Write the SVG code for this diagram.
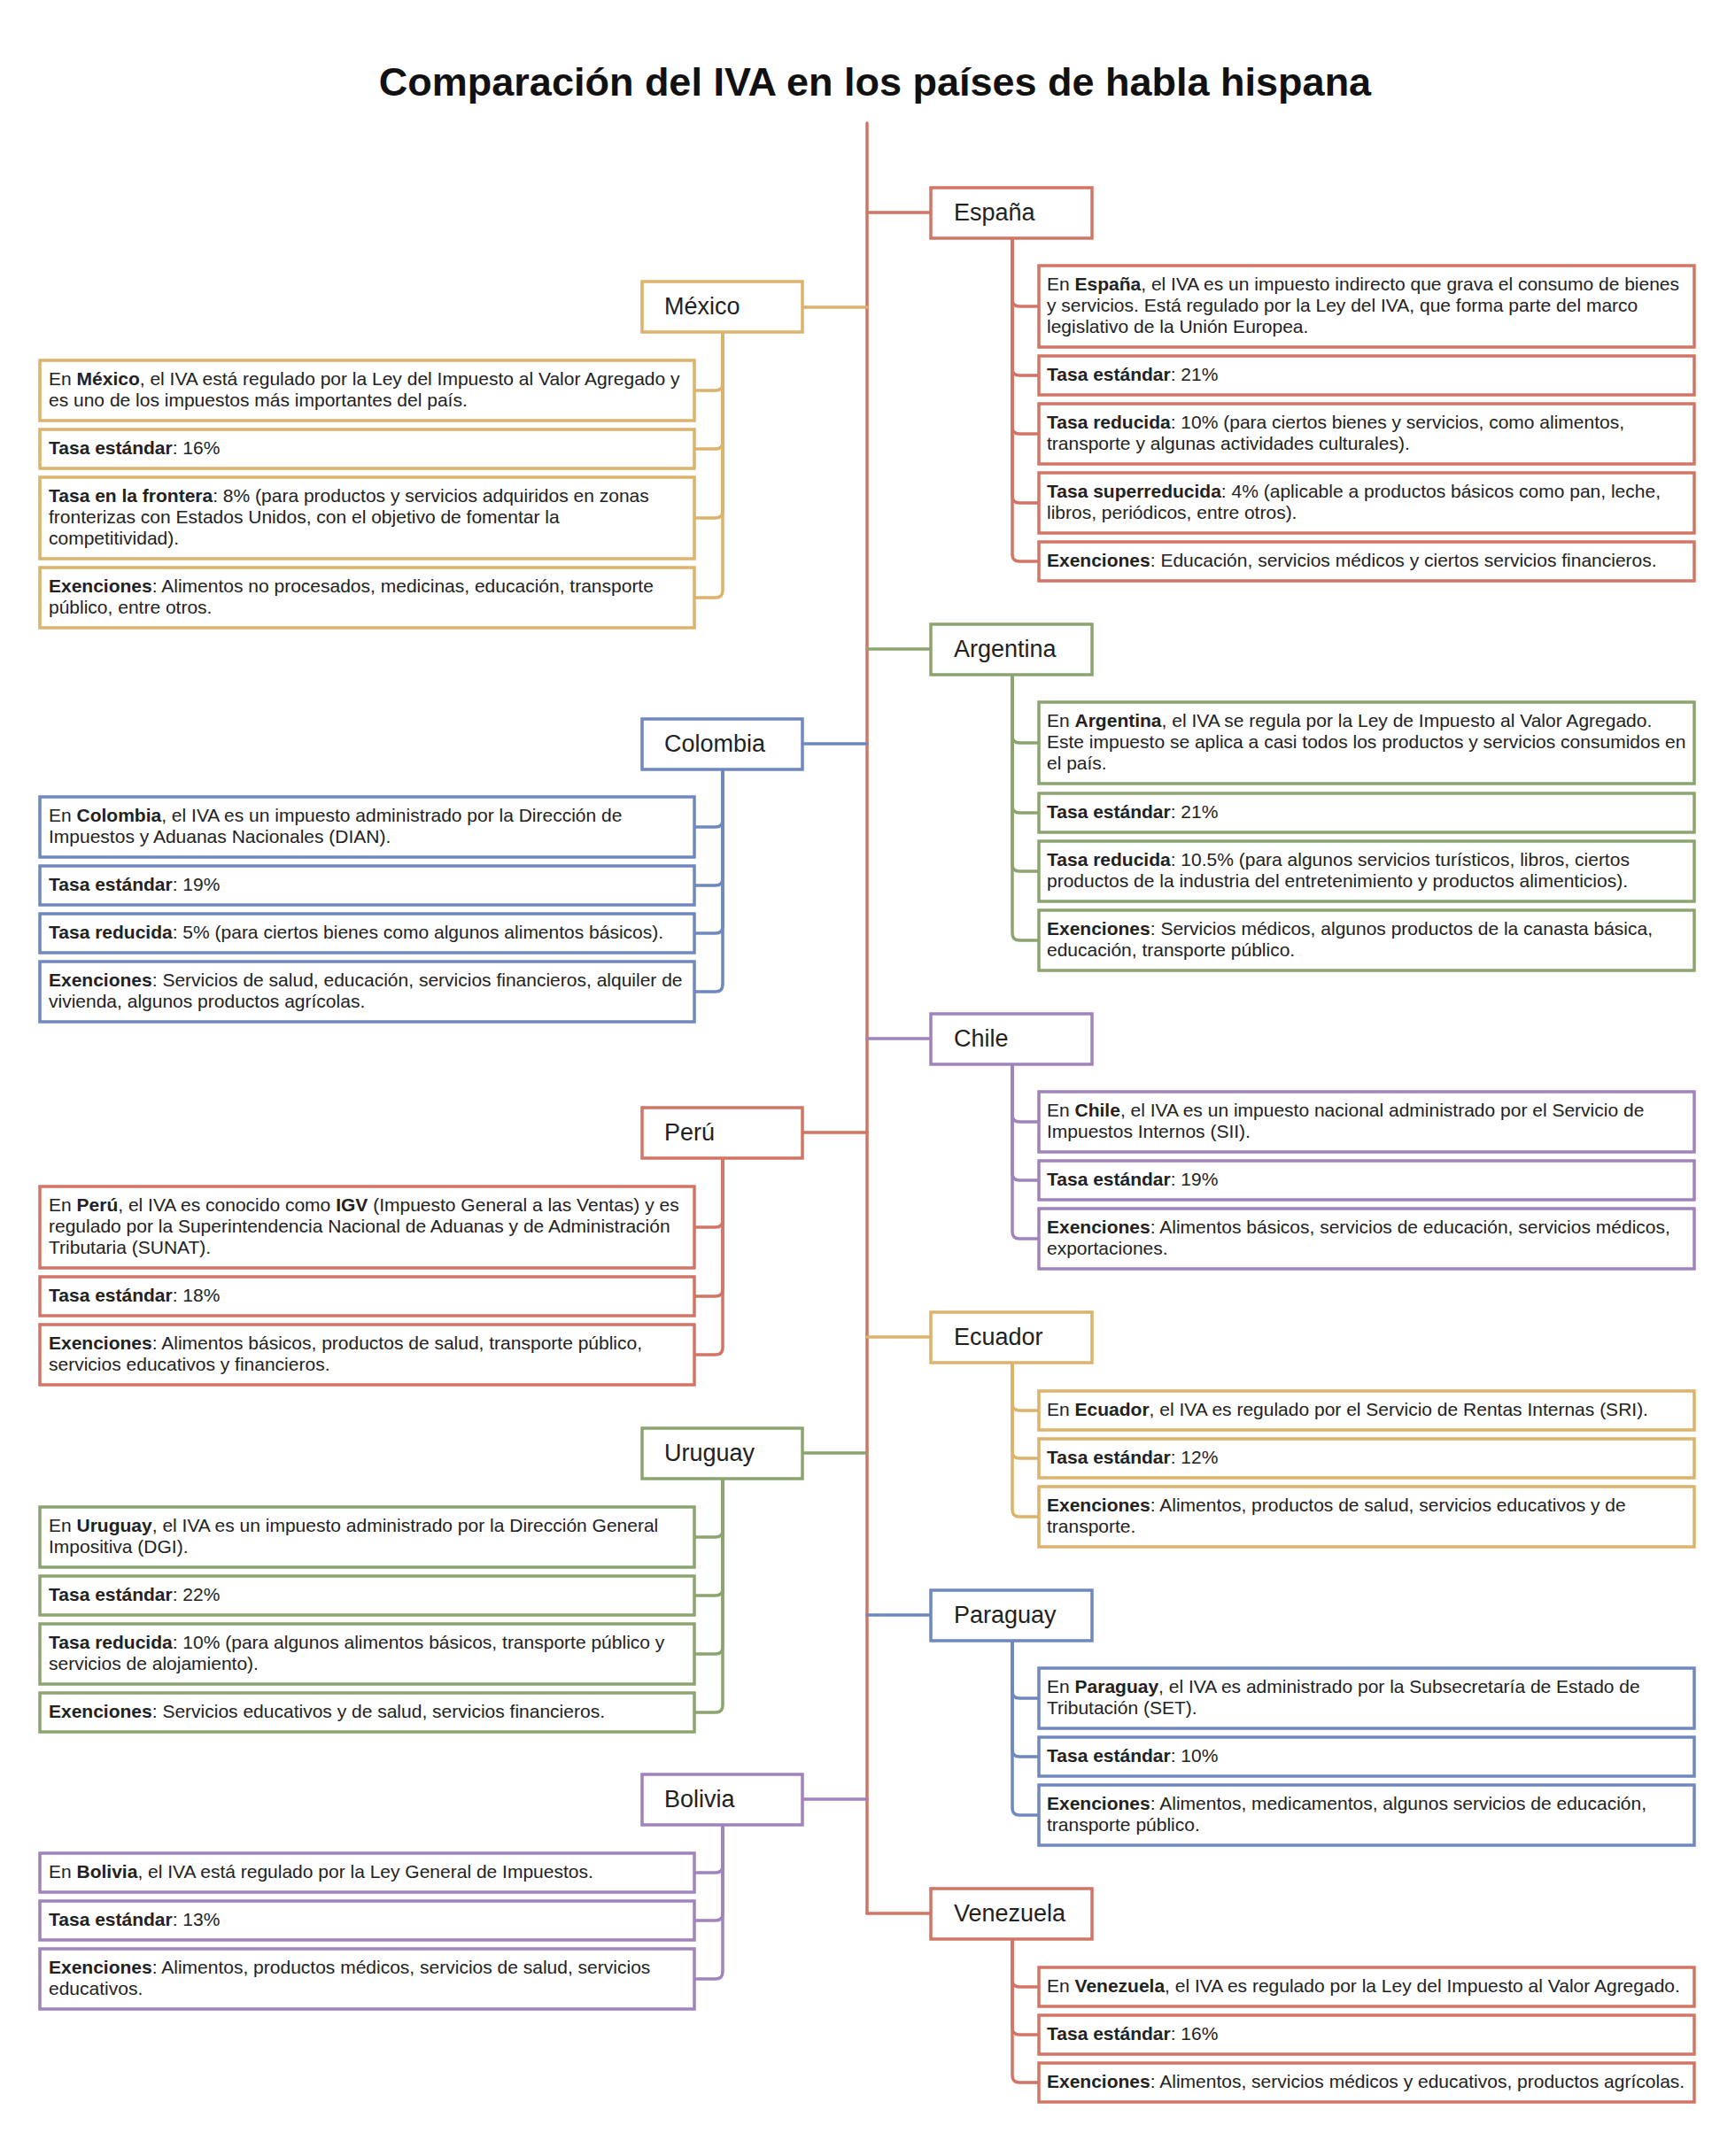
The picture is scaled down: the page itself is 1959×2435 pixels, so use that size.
<svg xmlns="http://www.w3.org/2000/svg" width="1959" height="2435" viewBox="0 0 1959 2435">
<style>
text{font-family:"Liberation Sans",Arial,sans-serif;fill:#222}
.t{font-size:21px}
.n{font-size:27px}
.b{font-weight:bold}
.title{font-size:45px;font-weight:bold;fill:#111}
rect{fill:#fff;stroke-width:3.5}
.c{fill:none;stroke-width:3.5;stroke-linecap:round}
.red{stroke:#D27565}
.gold{stroke:#DDB26B}
.green{stroke:#8CA56F}
.blue{stroke:#7088C0}
.purple{stroke:#A083BD}
</style>
<rect x="0" y="0" width="1959" height="2435" style="fill:#fff;stroke:none"/>
<text class="title" x="988" y="108" text-anchor="middle">Comparación del IVA en los países de habla hispana</text>

<g id="connectors">
<path class="c red" d="M979,139 V2161"/>
<path class="c red" d="M979,240 H1051"/>
<path class="c green" d="M979,733 H1051"/>
<path class="c purple" d="M979,1173 H1051"/>
<path class="c gold" d="M979,1510 H1051"/>
<path class="c blue" d="M979,1824 H1051"/>
<path class="c red" d="M979,2161 H1051"/>
<path class="c gold" d="M979,347 H906"/>
<path class="c blue" d="M979,840 H906"/>
<path class="c red" d="M979,1279 H906"/>
<path class="c green" d="M979,1641 H906"/>
<path class="c purple" d="M979,2032 H906"/>
<!-- España -->
<path class="c red" d="M1143,269 V338 Q1143,346 1151,346 H1173"/>
<path class="c red" d="M1143,269 V416 Q1143,424 1151,424 H1173"/>
<path class="c red" d="M1143,269 V482 Q1143,490 1151,490 H1173"/>
<path class="c red" d="M1143,269 V560 Q1143,568 1151,568 H1173"/>
<path class="c red" d="M1143,269 V626 Q1143,634 1151,634 H1173"/>
<!-- Argentina -->
<path class="c green" d="M1143,762 V831 Q1143,839 1151,839 H1173"/>
<path class="c green" d="M1143,762 V910 Q1143,918 1151,918 H1173"/>
<path class="c green" d="M1143,762 V976 Q1143,984 1151,984 H1173"/>
<path class="c green" d="M1143,762 V1054 Q1143,1062 1151,1062 H1173"/>
<!-- Chile -->
<path class="c purple" d="M1143,1202 V1259 Q1143,1267 1151,1267 H1173"/>
<path class="c purple" d="M1143,1202 V1325 Q1143,1333 1151,1333 H1173"/>
<path class="c purple" d="M1143,1202 V1391 Q1143,1399 1151,1399 H1173"/>
<!-- Ecuador -->
<path class="c gold" d="M1143,1539 V1585 Q1143,1593 1151,1593 H1173"/>
<path class="c gold" d="M1143,1539 V1639 Q1143,1647 1151,1647 H1173"/>
<path class="c gold" d="M1143,1539 V1705 Q1143,1713 1151,1713 H1173"/>
<!-- Paraguay -->
<path class="c blue" d="M1143,1853 V1910 Q1143,1918 1151,1918 H1173"/>
<path class="c blue" d="M1143,1853 V1976 Q1143,1984 1151,1984 H1173"/>
<path class="c blue" d="M1143,1853 V2042 Q1143,2050 1151,2050 H1173"/>
<!-- Venezuela -->
<path class="c red" d="M1143,2190 V2236 Q1143,2244 1151,2244 H1173"/>
<path class="c red" d="M1143,2190 V2290 Q1143,2298 1151,2298 H1173"/>
<path class="c red" d="M1143,2190 V2344 Q1143,2352 1151,2352 H1173"/>
<!-- México -->
<path class="c gold" d="M816,375 V433 Q816,441 808,441 H784"/>
<path class="c gold" d="M816,375 V499 Q816,507 808,507 H784"/>
<path class="c gold" d="M816,375 V577 Q816,585 808,585 H784"/>
<path class="c gold" d="M816,375 V667 Q816,675 808,675 H784"/>
<!-- Colombia -->
<path class="c blue" d="M816,869 V926 Q816,934 808,934 H784"/>
<path class="c blue" d="M816,869 V992 Q816,1000 808,1000 H784"/>
<path class="c blue" d="M816,869 V1046 Q816,1054 808,1054 H784"/>
<path class="c blue" d="M816,869 V1112 Q816,1120 808,1120 H784"/>
<!-- Perú -->
<path class="c red" d="M816,1308 V1378 Q816,1386 808,1386 H784"/>
<path class="c red" d="M816,1308 V1456 Q816,1464 808,1464 H784"/>
<path class="c red" d="M816,1308 V1522 Q816,1530 808,1530 H784"/>
<!-- Uruguay -->
<path class="c green" d="M816,1670 V1728 Q816,1736 808,1736 H784"/>
<path class="c green" d="M816,1670 V1794 Q816,1802 808,1802 H784"/>
<path class="c green" d="M816,1670 V1860 Q816,1868 808,1868 H784"/>
<path class="c green" d="M816,1670 V1926 Q816,1934 808,1934 H784"/>
<!-- Bolivia -->
<path class="c purple" d="M816,2061 V2107 Q816,2115 808,2115 H784"/>
<path class="c purple" d="M816,2061 V2161 Q816,2169 808,2169 H784"/>
<path class="c purple" d="M816,2061 V2227 Q816,2235 808,2235 H784"/>
</g>

<!-- ===== España ===== -->
<g id="espana"><rect class="red" x="1051" y="212" width="182" height="57"/><text class="n" x="1077" y="249">España</text></g>
<g id="espana-1"><rect class="red" x="1173" y="300" width="740" height="92"/><text class="t" x="1182"><tspan x="1182" y="328">En <tspan class="b">España</tspan>, el IVA es un impuesto indirecto que grava el consumo de bienes</tspan><tspan x="1182" y="352">y servicios. Está regulado por la Ley del IVA, que forma parte del marco</tspan><tspan x="1182" y="376">legislativo de la Unión Europea.</tspan></text></g>
<g id="espana-2"><rect class="red" x="1173" y="402" width="740" height="44"/><text class="t" x="1182" y="430"><tspan class="b">Tasa estándar</tspan>: 21%</text></g>
<g id="espana-3"><rect class="red" x="1173" y="456" width="740" height="68"/><text class="t"><tspan x="1182" y="484"><tspan class="b">Tasa reducida</tspan>: 10% (para ciertos bienes y servicios, como alimentos,</tspan><tspan x="1182" y="508">transporte y algunas actividades culturales).</tspan></text></g>
<g id="espana-4"><rect class="red" x="1173" y="534" width="740" height="68"/><text class="t"><tspan x="1182" y="562"><tspan class="b">Tasa superreducida</tspan>: 4% (aplicable a productos básicos como pan, leche,</tspan><tspan x="1182" y="586">libros, periódicos, entre otros).</tspan></text></g>
<g id="espana-5"><rect class="red" x="1173" y="612" width="740" height="44"/><text class="t" x="1182" y="640"><tspan class="b">Exenciones</tspan>: Educación, servicios médicos y ciertos servicios financieros.</text></g>

<!-- ===== Argentina ===== -->
<g id="argentina"><rect class="green" x="1051" y="705" width="182" height="57"/><text class="n" x="1077" y="742">Argentina</text></g>
<g id="argentina-1"><rect class="green" x="1173" y="793" width="740" height="92"/><text class="t"><tspan x="1182" y="821">En <tspan class="b">Argentina</tspan>, el IVA se regula por la Ley de Impuesto al Valor Agregado.</tspan><tspan x="1182" y="845">Este impuesto se aplica a casi todos los productos y servicios consumidos en</tspan><tspan x="1182" y="869">el país.</tspan></text></g>
<g id="argentina-2"><rect class="green" x="1173" y="896" width="740" height="44"/><text class="t" x="1182" y="924"><tspan class="b">Tasa estándar</tspan>: 21%</text></g>
<g id="argentina-3"><rect class="green" x="1173" y="950" width="740" height="68"/><text class="t"><tspan x="1182" y="978"><tspan class="b">Tasa reducida</tspan>: 10.5% (para algunos servicios turísticos, libros, ciertos</tspan><tspan x="1182" y="1002">productos de la industria del entretenimiento y productos alimenticios).</tspan></text></g>
<g id="argentina-4"><rect class="green" x="1173" y="1028" width="740" height="68"/><text class="t"><tspan x="1182" y="1056"><tspan class="b">Exenciones</tspan>: Servicios médicos, algunos productos de la canasta básica,</tspan><tspan x="1182" y="1080">educación, transporte público.</tspan></text></g>

<!-- ===== Chile ===== -->
<g id="chile"><rect class="purple" x="1051" y="1145" width="182" height="57"/><text class="n" x="1077" y="1182">Chile</text></g>
<g id="chile-1"><rect class="purple" x="1173" y="1233" width="740" height="68"/><text class="t"><tspan x="1182" y="1261">En <tspan class="b">Chile</tspan>, el IVA es un impuesto nacional administrado por el Servicio de</tspan><tspan x="1182" y="1285">Impuestos Internos (SII).</tspan></text></g>
<g id="chile-2"><rect class="purple" x="1173" y="1311" width="740" height="44"/><text class="t" x="1182" y="1339"><tspan class="b">Tasa estándar</tspan>: 19%</text></g>
<g id="chile-3"><rect class="purple" x="1173" y="1365" width="740" height="68"/><text class="t"><tspan x="1182" y="1393"><tspan class="b">Exenciones</tspan>: Alimentos básicos, servicios de educación, servicios médicos,</tspan><tspan x="1182" y="1417">exportaciones.</tspan></text></g>

<!-- ===== Ecuador ===== -->
<g id="ecuador"><rect class="gold" x="1051" y="1482" width="182" height="57"/><text class="n" x="1077" y="1519">Ecuador</text></g>
<g id="ecuador-1"><rect class="gold" x="1173" y="1571" width="740" height="44"/><text class="t" x="1182" y="1599">En <tspan class="b">Ecuador</tspan>, el IVA es regulado por el Servicio de Rentas Internas (SRI).</text></g>
<g id="ecuador-2"><rect class="gold" x="1173" y="1625" width="740" height="44"/><text class="t" x="1182" y="1653"><tspan class="b">Tasa estándar</tspan>: 12%</text></g>
<g id="ecuador-3"><rect class="gold" x="1173" y="1679" width="740" height="68"/><text class="t"><tspan x="1182" y="1707"><tspan class="b">Exenciones</tspan>: Alimentos, productos de salud, servicios educativos y de</tspan><tspan x="1182" y="1731">transporte.</tspan></text></g>

<!-- ===== Paraguay ===== -->
<g id="paraguay"><rect class="blue" x="1051" y="1796" width="182" height="57"/><text class="n" x="1077" y="1833">Paraguay</text></g>
<g id="paraguay-1"><rect class="blue" x="1173" y="1884" width="740" height="68"/><text class="t"><tspan x="1182" y="1912">En <tspan class="b">Paraguay</tspan>, el IVA es administrado por la Subsecretaría de Estado de</tspan><tspan x="1182" y="1936">Tributación (SET).</tspan></text></g>
<g id="paraguay-2"><rect class="blue" x="1173" y="1962" width="740" height="44"/><text class="t" x="1182" y="1990"><tspan class="b">Tasa estándar</tspan>: 10%</text></g>
<g id="paraguay-3"><rect class="blue" x="1173" y="2016" width="740" height="68"/><text class="t"><tspan x="1182" y="2044"><tspan class="b">Exenciones</tspan>: Alimentos, medicamentos, algunos servicios de educación,</tspan><tspan x="1182" y="2068">transporte público.</tspan></text></g>

<!-- ===== Venezuela ===== -->
<g id="venezuela"><rect class="red" x="1051" y="2133" width="182" height="57"/><text class="n" x="1077" y="2170">Venezuela</text></g>
<g id="venezuela-1"><rect class="red" x="1173" y="2222" width="740" height="44"/><text class="t" x="1182" y="2250">En <tspan class="b">Venezuela</tspan>, el IVA es regulado por la Ley del Impuesto al Valor Agregado.</text></g>
<g id="venezuela-2"><rect class="red" x="1173" y="2276" width="740" height="44"/><text class="t" x="1182" y="2304"><tspan class="b">Tasa estándar</tspan>: 16%</text></g>
<g id="venezuela-3"><rect class="red" x="1173" y="2330" width="740" height="44"/><text class="t" x="1182" y="2358"><tspan class="b">Exenciones</tspan>: Alimentos, servicios médicos y educativos, productos agrícolas.</text></g>

<!-- ===== México ===== -->
<g id="mexico"><rect class="gold" x="725" y="318" width="181" height="57"/><text class="n" x="750" y="355">México</text></g>
<g id="mexico-1"><rect class="gold" x="45" y="407" width="739" height="68"/><text class="t"><tspan x="55" y="435">En <tspan class="b">México</tspan>, el IVA está regulado por la Ley del Impuesto al Valor Agregado y</tspan><tspan x="55" y="459">es uno de los impuestos más importantes del país.</tspan></text></g>
<g id="mexico-2"><rect class="gold" x="45" y="485" width="739" height="44"/><text class="t" x="55" y="513"><tspan class="b">Tasa estándar</tspan>: 16%</text></g>
<g id="mexico-3"><rect class="gold" x="45" y="539" width="739" height="92"/><text class="t"><tspan x="55" y="567"><tspan class="b">Tasa en la frontera</tspan>: 8% (para productos y servicios adquiridos en zonas</tspan><tspan x="55" y="591">fronterizas con Estados Unidos, con el objetivo de fomentar la</tspan><tspan x="55" y="615">competitividad).</tspan></text></g>
<g id="mexico-4"><rect class="gold" x="45" y="641" width="739" height="68"/><text class="t"><tspan x="55" y="669"><tspan class="b">Exenciones</tspan>: Alimentos no procesados, medicinas, educación, transporte</tspan><tspan x="55" y="693">público, entre otros.</tspan></text></g>

<!-- ===== Colombia ===== -->
<g id="colombia"><rect class="blue" x="725" y="812" width="181" height="57"/><text class="n" x="750" y="849">Colombia</text></g>
<g id="colombia-1"><rect class="blue" x="45" y="900" width="739" height="68"/><text class="t"><tspan x="55" y="928">En <tspan class="b">Colombia</tspan>, el IVA es un impuesto administrado por la Dirección de</tspan><tspan x="55" y="952">Impuestos y Aduanas Nacionales (DIAN).</tspan></text></g>
<g id="colombia-2"><rect class="blue" x="45" y="978" width="739" height="44"/><text class="t" x="55" y="1006"><tspan class="b">Tasa estándar</tspan>: 19%</text></g>
<g id="colombia-3"><rect class="blue" x="45" y="1032" width="739" height="44"/><text class="t" x="55" y="1060"><tspan class="b">Tasa reducida</tspan>: 5% (para ciertos bienes como algunos alimentos básicos).</text></g>
<g id="colombia-4"><rect class="blue" x="45" y="1086" width="739" height="68"/><text class="t"><tspan x="55" y="1114"><tspan class="b">Exenciones</tspan>: Servicios de salud, educación, servicios financieros, alquiler de</tspan><tspan x="55" y="1138">vivienda, algunos productos agrícolas.</tspan></text></g>

<!-- ===== Perú ===== -->
<g id="peru"><rect class="red" x="725" y="1251" width="181" height="57"/><text class="n" x="750" y="1288">Perú</text></g>
<g id="peru-1"><rect class="red" x="45" y="1340" width="739" height="92"/><text class="t"><tspan x="55" y="1368">En <tspan class="b">Perú</tspan>, el IVA es conocido como <tspan class="b">IGV</tspan> (Impuesto General a las Ventas) y es</tspan><tspan x="55" y="1392">regulado por la Superintendencia Nacional de Aduanas y de Administración</tspan><tspan x="55" y="1416">Tributaria (SUNAT).</tspan></text></g>
<g id="peru-2"><rect class="red" x="45" y="1442" width="739" height="44"/><text class="t" x="55" y="1470"><tspan class="b">Tasa estándar</tspan>: 18%</text></g>
<g id="peru-3"><rect class="red" x="45" y="1496" width="739" height="68"/><text class="t"><tspan x="55" y="1524"><tspan class="b">Exenciones</tspan>: Alimentos básicos, productos de salud, transporte público,</tspan><tspan x="55" y="1548">servicios educativos y financieros.</tspan></text></g>

<!-- ===== Uruguay ===== -->
<g id="uruguay"><rect class="green" x="725" y="1613" width="181" height="57"/><text class="n" x="750" y="1650">Uruguay</text></g>
<g id="uruguay-1"><rect class="green" x="45" y="1702" width="739" height="68"/><text class="t"><tspan x="55" y="1730">En <tspan class="b">Uruguay</tspan>, el IVA es un impuesto administrado por la Dirección General</tspan><tspan x="55" y="1754">Impositiva (DGI).</tspan></text></g>
<g id="uruguay-2"><rect class="green" x="45" y="1780" width="739" height="44"/><text class="t" x="55" y="1808"><tspan class="b">Tasa estándar</tspan>: 22%</text></g>
<g id="uruguay-3"><rect class="green" x="45" y="1834" width="739" height="68"/><text class="t"><tspan x="55" y="1862"><tspan class="b">Tasa reducida</tspan>: 10% (para algunos alimentos básicos, transporte público y</tspan><tspan x="55" y="1886">servicios de alojamiento).</tspan></text></g>
<g id="uruguay-4"><rect class="green" x="45" y="1912" width="739" height="44"/><text class="t" x="55" y="1940"><tspan class="b">Exenciones</tspan>: Servicios educativos y de salud, servicios financieros.</text></g>

<!-- ===== Bolivia ===== -->
<g id="bolivia"><rect class="purple" x="725" y="2004" width="181" height="57"/><text class="n" x="750" y="2041">Bolivia</text></g>
<g id="bolivia-1"><rect class="purple" x="45" y="2093" width="739" height="44"/><text class="t" x="55" y="2121">En <tspan class="b">Bolivia</tspan>, el IVA está regulado por la Ley General de Impuestos.</text></g>
<g id="bolivia-2"><rect class="purple" x="45" y="2147" width="739" height="44"/><text class="t" x="55" y="2175"><tspan class="b">Tasa estándar</tspan>: 13%</text></g>
<g id="bolivia-3"><rect class="purple" x="45" y="2201" width="739" height="68"/><text class="t"><tspan x="55" y="2229"><tspan class="b">Exenciones</tspan>: Alimentos, productos médicos, servicios de salud, servicios</tspan><tspan x="55" y="2253">educativos.</tspan></text></g>
</svg>
